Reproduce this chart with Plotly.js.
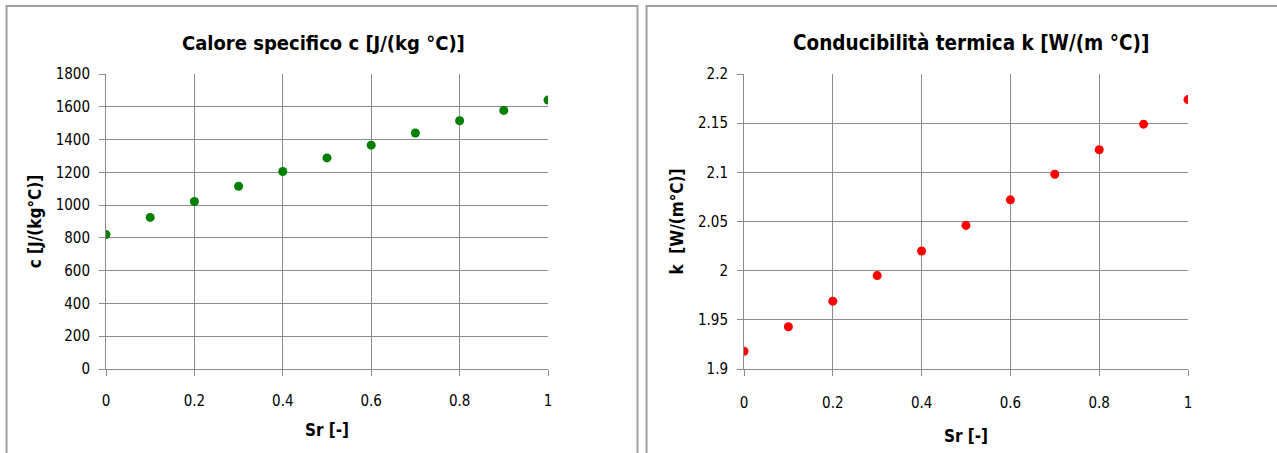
<!DOCTYPE html>
<html>
<head>
<meta charset="utf-8">
<script src="https://cdn.plot.ly/plotly-3.0.1.min.js"></script>
<style>
html,body{margin:0;padding:0;background:#fff;}
#chart{width:1277px;height:453px;}
</style>
</head>
<body>
<div id="chart"></div>
<script>
// Data
const sr = [0, 0.1, 0.2, 0.3, 0.4, 0.5, 0.6, 0.7, 0.8, 0.9, 1.0];
const calore = [820, 925, 1022, 1115, 1205, 1288, 1366, 1440, 1515, 1578, 1641];
const conduc = [1.918, 1.943, 1.969, 1.995, 2.020, 2.046, 2.072, 2.098, 2.123, 2.149, 2.174];
const titleLeft = 'Calore specifico c [J/(kg °C)]';
const titleRight = 'Conducibilità termica k [W/(m °C)]';
const xTitle = 'Sr [-]';
const yTitleLeft = 'c [J/(kg°C)]';
const yTitleRight = 'k  [W/(m°C)]';
const xTicks = [0, 0.2, 0.4, 0.6, 0.8, 1];
const xTickText = ['0', '0.2', '0.4', '0.6', '0.8', '1'];
const yTicksLeft = [0, 200, 400, 600, 800, 1000, 1200, 1400, 1600, 1800];
const yTicksRight = [1.9, 1.95, 2, 2.05, 2.1, 2.15, 2.2];
const yTickTextRight = ['1.9', '1.95', '2', '2.05', '2.1', '2.15', '2.2'];

const FONT = '"DejaVu Sans Condensed", "DejaVu Sans", Arial, sans-serif';
const GRID = '#8c8c8c';
const W = 1277, H = 453;
const px = v => v / W;
const py = v => (H - v) / H;

const traces = [
  {x: sr, y: calore, type: 'scatter', mode: 'markers', xaxis: 'x', yaxis: 'y',
   marker: {color: '#008000', size: 9}, showlegend: false, hoverinfo: 'x+y'},
  {x: sr, y: conduc, type: 'scatter', mode: 'markers', xaxis: 'x2', yaxis: 'y2',
   marker: {color: '#ff0000', size: 9}, showlegend: false, hoverinfo: 'x+y'}
];

const axisCommon = {
  showgrid: true, gridcolor: GRID, gridwidth: 1,
  showline: true, linecolor: GRID, linewidth: 1,
  ticks: 'outside', ticklen: 6, tickcolor: GRID, tickwidth: 1,
  zeroline: false, mirror: false,
  tickfont: {family: FONT, size: 15, color: '#000'}
};

const layout = {
  width: W, height: H,
  margin: {l: 0, r: 0, t: 0, b: 0},
  paper_bgcolor: '#fff', plot_bgcolor: '#fff',
  font: {family: FONT, color: '#000'},
  xaxis: Object.assign({}, axisCommon, {
    domain: [px(106), px(548)], range: [0, 1], anchor: 'y',
    tickvals: xTicks, ticktext: xTickText, ticklabelstandoff: 12,
    title: {text: '<b>' + xTitle + '</b>', font: {family: FONT, size: 17}, standoff: 15}
  }),
  yaxis: Object.assign({}, axisCommon, {
    domain: [py(369), py(74)], range: [0, 1800], anchor: 'x',
    tickvals: yTicksLeft, ticklabelstandoff: 6,
    title: {text: '<b>' + yTitleLeft + '</b>', font: {family: FONT, size: 17}, standoff: 9}
  }),
  xaxis2: Object.assign({}, axisCommon, {
    domain: [px(744), px(1188)], range: [0, 1], anchor: 'y2',
    tickvals: xTicks, ticktext: xTickText, ticklabelstandoff: 14,
    title: {text: '<b>' + xTitle + '</b>', font: {family: FONT, size: 17}, standoff: 19}
  }),
  yaxis2: Object.assign({}, axisCommon, {
    domain: [py(369), py(74)], range: [1.9, 2.2], anchor: 'x2',
    tickvals: yTicksRight, ticktext: yTickTextRight, ticklabelstandoff: 6,
    title: {text: '<b>' + yTitleRight + '</b>', font: {family: FONT, size: 17}, standoff: 10}
  }),
  annotations: [
    {text: '<b>' + titleLeft + '</b>', xref: 'paper', yref: 'paper',
     x: px(323), y: py(43), xanchor: 'center', yanchor: 'middle', showarrow: false,
     font: {family: FONT, size: 20, color: '#000'}},
    {text: '<b>' + titleRight + '</b>', xref: 'paper', yref: 'paper',
     x: px(971), y: py(43), xanchor: 'center', yanchor: 'middle', showarrow: false,
     font: {family: FONT, size: 20.5, color: '#000'}}
  ],
  shapes: [
    {type: 'path', xref: 'paper', yref: 'paper',
     path: 'M ' + px(6.5) + ' 0 L ' + px(6.5) + ' ' + py(6) + ' L ' + px(637.5) + ' ' + py(6) + ' L ' + px(637.5) + ' 0',
     line: {color: '#a0a0a0', width: 2}},
    {type: 'path', xref: 'paper', yref: 'paper',
     path: 'M ' + px(646.5) + ' 0 L ' + px(646.5) + ' ' + py(6) + ' L 1.01 ' + py(6),
     line: {color: '#a0a0a0', width: 2}}
  ]
};

Plotly.newPlot('chart', traces, layout, {displayModeBar: false, staticPlot: true});
</script>
</body>
</html>
